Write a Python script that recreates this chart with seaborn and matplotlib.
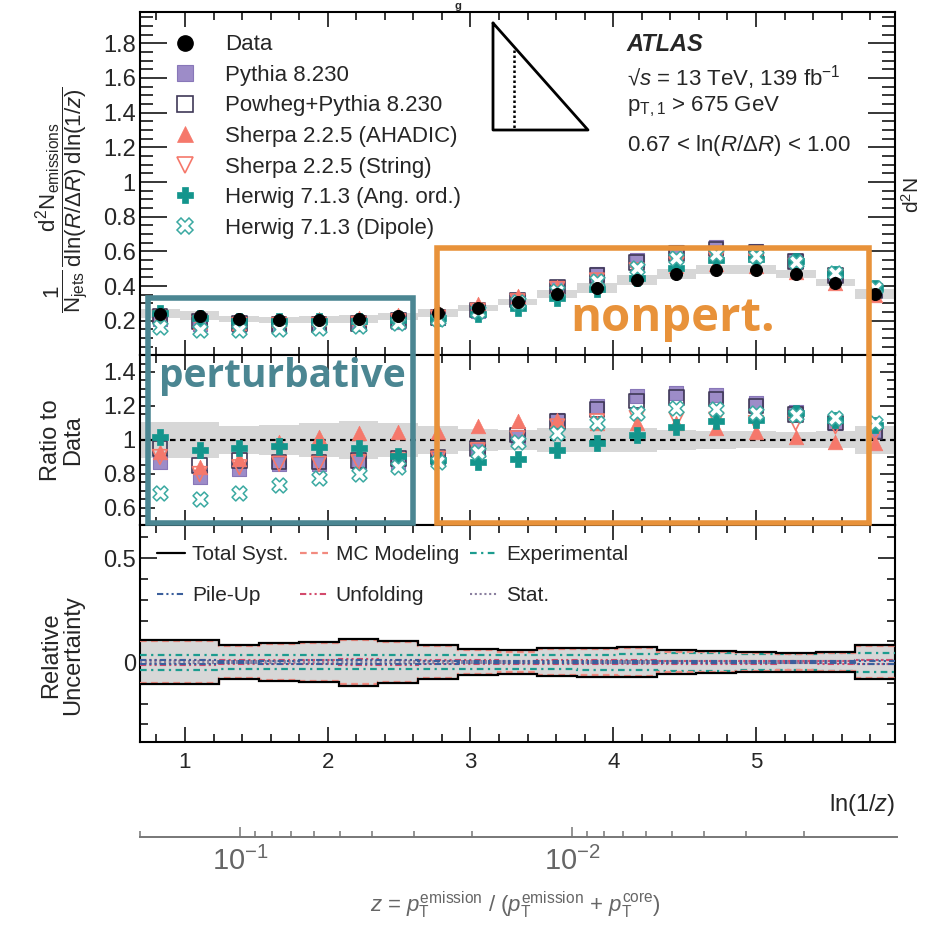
import numpy as np
import pandas as pd
import matplotlib
matplotlib.use('Agg')
import matplotlib.pyplot as plt
import seaborn as sns
from matplotlib.lines import Line2D
from matplotlib.patches import Rectangle
from matplotlib.ticker import MultipleLocator, FuncFormatter, LogLocator, LogFormatterMathtext, NullFormatter

sns.set_theme(style='ticks')
plt.rcParams['font.family'] = ['Liberation Sans', 'DejaVu Sans']
plt.rcParams['mathtext.fontset'] = 'custom'
plt.rcParams['mathtext.rm'] = 'Liberation Sans'
plt.rcParams['mathtext.it'] = 'Liberation Sans:italic'
plt.rcParams['mathtext.bf'] = 'Liberation Sans:bold'

# ---------------- data ----------------
x_lo, x_hi, n_bins = 0.685, 5.974, 19
edges = np.linspace(x_lo, x_hi, n_bins + 1)
centers = 0.5 * (edges[:-1] + edges[1:])

data = [0.24, 0.23, 0.21, 0.205, 0.205, 0.21, 0.225, 0.245, 0.275, 0.31,
        0.355, 0.39, 0.435, 0.47, 0.495, 0.495, 0.47, 0.42, 0.355]

ratio_pythia = [0.87, 0.78, 0.83, 0.86, 0.86, 0.87, 0.87, 0.89, 0.94, 1.02,
                1.12, 1.20, 1.26, 1.275, 1.265, 1.22, 1.165, 1.10, 1.06]
ratio_powheg = [0.95, 0.85, 0.88, 0.87, 0.87, 0.88, 0.89, 0.90, 0.95, 1.03,
                1.11, 1.18, 1.23, 1.25, 1.24, 1.20, 1.15, 1.10, 1.05]
ratio_ahadic = [0.93, 0.84, 0.89, 0.99, 1.02, 1.04, 1.045, 1.045, 1.08, 1.11,
                1.12, 1.10, 1.10, 1.10, 1.07, 1.045, 1.02, 0.99, 0.98]
ratio_string = [0.90, 0.80, 0.84, 0.86, 0.86, 0.87, 0.88, 0.89, 0.94, 1.01,
                1.08, 1.11, 1.13, 1.12, 1.12, 1.10, 1.10, 1.08, 1.04]
ratio_angord = [1.02, 0.94, 0.95, 0.965, 0.96, 0.95, 0.905, 0.88, 0.87, 0.89,
                0.94, 0.98, 1.03, 1.075, 1.11, 1.12, 1.16, 1.12, 1.09]
ratio_dipole = [0.69, 0.65, 0.69, 0.735, 0.775, 0.80, 0.84, 0.87, 0.93, 0.99,
                1.04, 1.10, 1.16, 1.19, 1.18, 1.16, 1.15, 1.13, 1.10]

unc_total = [0.108, 0.108, 0.08, 0.09, 0.098, 0.113, 0.102, 0.083, 0.064, 0.056,
             0.068, 0.07, 0.072, 0.057, 0.055, 0.05, 0.046, 0.05, 0.081]
unc_mc = [0.103, 0.103, 0.075, 0.085, 0.093, 0.108, 0.097, 0.078, 0.058, 0.05,
          0.062, 0.064, 0.066, 0.05, 0.048, 0.043, 0.04, 0.044, 0.077]
unc_exp = [0.036, 0.036, 0.035, 0.035, 0.034, 0.034, 0.034, 0.033, 0.033, 0.033,
           0.034, 0.036, 0.04, 0.042, 0.042, 0.04, 0.04, 0.042, 0.046]
unc_pileup = [0.008, 0.008, 0.006, 0.007, 0.008, 0.01, 0.009, 0.007, 0.006, 0.005,
              0.006, 0.006, 0.006, 0.005, 0.005, 0.005, 0.005, 0.006, 0.007]
unc_unfold = [0.012, 0.012, 0.01, 0.01, 0.011, 0.013, 0.012, 0.01, 0.008, 0.007,
              0.008, 0.01, 0.009, 0.007, 0.007, 0.007, 0.006, 0.007, 0.01]
unc_stat = [0.004, 0.004, 0.004, 0.004, 0.004, 0.005, 0.005, 0.004, 0.004, 0.004,
            0.004, 0.004, 0.004, 0.004, 0.004, 0.005, 0.005, 0.006, 0.008]

labels = ['Data', 'Pythia 8.230', 'Powheg+Pythia 8.230', 'Sherpa 2.2.5 (AHADIC)',
          'Sherpa 2.2.5 (String)', 'Herwig 7.1.3 (Ang. ord.)', 'Herwig 7.1.3 (Dipole)']
unc_labels = ['Total Syst.', 'MC Modeling', 'Experimental', 'Pile-Up', 'Unfolding', 'Stat.']

# ---------------- styles ----------------
C_PY = '#9d8cc8'
C_PW = '#3f3857'
C_SH = '#f5786b'
C_HW = '#13958c'
C_HD = '#3aa9a1'
GREY = '#d7d7d7'

series = [
    ('Pythia 8.230', ratio_pythia, dict(marker='s', s=110, color=C_PY, edgecolor='#8877b8', linewidth=0.8)),
    ('Powheg+Pythia 8.230', ratio_powheg, dict(marker='s', s=110, color=C_PW, facecolor='none', edgecolor=C_PW, linewidth=1.2)),
    ('Sherpa 2.2.5 (AHADIC)', ratio_ahadic, dict(marker='^', s=110, color=C_SH, edgecolor=C_SH, linewidth=0.5)),
    ('Sherpa 2.2.5 (String)', ratio_string, dict(marker='v', s=110, color=C_SH, facecolor='none', edgecolor=C_SH, linewidth=1.2)),
    ('Herwig 7.1.3 (Ang. ord.)', ratio_angord, dict(marker='P', s=130, color=C_HW, edgecolor=C_HW, linewidth=0.5)),
    ('Herwig 7.1.3 (Dipole)', ratio_dipole, dict(marker='X', s=115, color=C_HD, facecolor='white', edgecolor=C_HD, linewidth=1.1)),
]

df = pd.DataFrame({'x': centers, 'data': data})
for name, r, _ in series:
    df[name] = np.array(r) * np.array(data)
    df[name + ' ratio'] = r

fig = plt.figure(figsize=(9.3, 9.26), dpi=100)
def fy(px):
    return 1 - px / 926.0
L, W = 140 / 930, 755 / 930
ax1 = fig.add_axes([L, fy(355), W, 343 / 926])
ax2 = fig.add_axes([L, fy(525), W, 170 / 926])
ax3 = fig.add_axes([L, fy(742), W, 217 / 926])

fmt = FuncFormatter(lambda v, p: f'{v:g}')
def style(ax, ymaj, ymin, ylen, xlen):
    ax.set_xlim(x_lo, x_hi)
    ax.xaxis.set_major_locator(MultipleLocator(1))
    ax.xaxis.set_minor_locator(MultipleLocator(0.2))
    ax.yaxis.set_major_locator(MultipleLocator(ymaj))
    ax.yaxis.set_minor_locator(MultipleLocator(ymin))
    ax.yaxis.set_major_formatter(fmt)
    ax.tick_params(which='both', direction='in', top=True, right=True,
                   width=1.1, color='black', labelsize=17, pad=3)
    ax.tick_params(axis='y', which='major', length=ylen[0])
    ax.tick_params(axis='y', which='minor', length=ylen[1])
    ax.tick_params(axis='x', which='major', length=xlen[0])
    ax.tick_params(axis='x', which='minor', length=xlen[1])
    for s in ax.spines.values():
        s.set_linewidth(1.5)
        s.set_color('black')

# ---------------- top panel ----------------
tot = np.array(unc_total)
dat = np.array(data)
ax1.fill_between(edges, np.append(dat * (1 - tot), dat[-1] * (1 - tot[-1])),
                 np.append(dat * (1 + tot), dat[-1] * (1 + tot[-1])),
                 step='post', color=GREY, lw=0, zorder=1)
for name, r, kw in series:
    sns.scatterplot(data=df, x='x', y=name, ax=ax1, zorder=3, legend=False, **kw)
sns.scatterplot(data=df, x='x', y='data', ax=ax1, marker='o', s=75, color='black',
                edgecolor='black', zorder=5, legend=False)
ax1.set_ylim(0.003, 1.98)
style(ax1, 0.2, 0.05, (19.5, 9.5), (11, 6))
ax1.set_xlabel('')
ax1.set_ylabel('')
ax1.tick_params(axis='x', labelbottom=False)

handles = [Line2D([], [], ls='none', marker='o', ms=11, color='black')]
for name, r, kw in series:
    fc = kw.get('facecolor', kw['color'])
    handles.append(Line2D([], [], ls='none', marker=kw['marker'], ms=np.sqrt(kw['s']) * 1.05,
                          markerfacecolor=fc, markeredgecolor=kw['edgecolor'],
                          markeredgewidth=kw['linewidth']))
ax1.legend(handles, labels, loc='upper left', bbox_to_anchor=(0.045, 0.935),
           frameon=False, fontsize=16, handlelength=1.0, handletextpad=1.3,
           labelspacing=0.43, borderpad=0, borderaxespad=0)

ax1.text(0.645, 0.905, 'ATLAS', transform=ax1.transAxes, fontsize=17,
         fontweight='bold', fontstyle='italic', va='center', ha='left')
ax1.text(0.645, 0.81, '√$s$ = 13 TeV, 139 fb$^{-1}$', transform=ax1.transAxes,
         fontsize=16, va='center', ha='left')
ax1.text(0.645, 0.725, r'p$_{\rm T,1}$ > 675 GeV', transform=ax1.transAxes,
         fontsize=16, va='center', ha='left')
ax1.text(0.645, 0.61, r'0.67 < ln($R$/$\Delta R$) < 1.00', transform=ax1.transAxes,
         fontsize=16, va='center', ha='left')

# ---------------- ratio panel ----------------
ax2.fill_between(edges, np.append(1 - tot, 1 - tot[-1]), np.append(1 + tot, 1 + tot[-1]),
                 step='post', color=GREY, lw=0, zorder=1)
ax2.axhline(1.0, color='black', ls=(0, (2.5, 2)), lw=1.6, zorder=2)
for name, r, kw in series:
    sns.scatterplot(data=df, x='x', y=name + ' ratio', ax=ax2, zorder=3, legend=False, **kw)
ax2.set_ylim(0.5, 1.5)
style(ax2, 0.2, 0.05, (11, 6), (11, 6))
ax2.set_xlabel('')
ax2.set_ylabel('')
ax2.tick_params(axis='x', labelbottom=False)

# ---------------- uncertainty panel ----------------
ax3.fill_between(edges, np.append(-tot, -tot[-1]), np.append(tot, tot[-1]),
                 step='post', color=GREY, lw=0, zorder=1)
unc_styles = [
    (unc_total, dict(color='black', lw=1.6, ls='-')),
    (unc_mc, dict(color='#f28a7f', lw=1.6, ls=(0, (3, 2)))),
    (unc_exp, dict(color='#1c9c8f', lw=1.6, ls=(0, (3, 2, 1, 2)))),
    (unc_pileup, dict(color='#3b5f9c', lw=1.5, ls=(0, (3, 1.5, 1, 1.5, 1, 1.5)))),
    (unc_unfold, dict(color='#d34a6c', lw=1.5, ls=(0, (3, 1.5, 1, 1.5, 1, 1.5)))),
    (unc_stat, dict(color='#8a7f9f', lw=1.5, ls=(0, (1, 1.3)))),
]
for vals, kw in unc_styles[::-1]:
    v = np.array(vals)
    ax3.stairs(v, edges, baseline=None, zorder=3, **kw)
    ax3.stairs(-v, edges, baseline=None, zorder=3, **kw)
ax3.set_ylim(-0.385, 0.66)
style(ax3, 0.5, 0.1, (12, 6), (11, 6))
ax3.tick_params(axis='x', labelsize=16, pad=7)
ax3.xaxis.set_major_formatter(fmt)
ax3.set_xlabel('ln(1/$z$)', fontsize=17, loc='right', labelpad=14)
uh = [Line2D([], [], **kw) for _, kw in unc_styles]
order = [0, 3, 1, 4, 2, 5]
ax3.legend([uh[i] for i in order], [unc_labels[i] for i in order], loc='upper left',
           bbox_to_anchor=(0.0225, 0.907), ncol=3,
           frameon=False, fontsize=15, handlelength=1.35, handletextpad=0.35,
           columnspacing=0.55, labelspacing=1.04, borderpad=0, borderaxespad=0)

# ---------------- y labels ----------------
fig.text(62 / 930, fy(200),
         r'$\dfrac{1}{\mathrm{N_{jets}}}\,\dfrac{\mathrm{d^2N_{emissions}}}{\mathrm{dln}(R/\Delta R)\;\mathrm{dln}(1/z)}$',
         rotation=90, ha='center', va='center', fontsize=16)
fig.text(62 / 930, fy(440), 'Ratio to\nData', rotation=90, ha='center', va='center',
         fontsize=17, linespacing=1.0)
fig.text(62 / 930, fy(655), 'Relative\nUncertainty', rotation=90, ha='center', va='center',
         fontsize=17, linespacing=1.0)

# ---------------- inset triangle icon ----------------
tri = Line2D([493 / 930, 493 / 930, 588 / 930, 493 / 930], [fy(23), fy(130), fy(130), fy(23)],
             transform=fig.transFigure, color='black', lw=2)
fig.add_artist(tri)
fig.add_artist(Line2D([514 / 930, 514 / 930], [fy(50), fy(128)], transform=fig.transFigure,
                      color='black', lw=1.8, ls=(0, (1, 1))))

# ---------------- annotation boxes ----------------
teal = '#4b8692'
orange = '#e8923a'
fig.add_artist(Rectangle((148 / 930, fy(523)), 265 / 930, 225 / 926, transform=fig.transFigure,
                         fill=False, edgecolor=teal, lw=4, zorder=10))
fig.add_artist(Rectangle((437 / 930, fy(523)), 432 / 930, 275 / 926, transform=fig.transFigure,
                         fill=False, edgecolor=orange, lw=4, zorder=10))
fig.text(282 / 930, fy(377), 'perturbative', family='Open Sans', fontweight='bold',
         fontsize=28, color=teal, ha='center', va='center', zorder=11)
fig.text(673 / 930, fy(318), 'nonpert.', family='Open Sans', fontweight='bold',
         fontsize=34, color=orange, ha='center', va='center', zorder=11)

# ---------------- secondary z axis ----------------
ax4 = fig.add_axes([L, fy(837), 757 / 930, 0.0001])
ax4.set_facecolor('none')
ax4.set_xscale('log')
ax4.set_xlim(0.2, 0.00105)
ax4.set_yticks([])
for k in ['left', 'right', 'top']:
    ax4.spines[k].set_visible(False)
ax4.spines['bottom'].set_color('#777777')
ax4.spines['bottom'].set_linewidth(1.4)
ax4.xaxis.set_major_locator(LogLocator(base=10))
ax4.xaxis.set_minor_locator(LogLocator(base=10, subs=np.arange(2, 10)))
ax4.xaxis.set_major_formatter(LogFormatterMathtext())
ax4.xaxis.set_minor_formatter(NullFormatter())
ax4.tick_params(axis='x', which='both', direction='in', color='#777777', width=1.1,
                labelcolor='#666666', labelsize=21, pad=7)
ax4.tick_params(axis='x', which='major', length=7)
ax4.tick_params(axis='x', which='minor', length=4)
fig.text(515 / 930, fy(905),
         r'$z$ = $p_{\rm T}^{\rm emission}$ / ($p_{\rm T}^{\rm emission}$ + $p_{\rm T}^{\rm core}$)',
         ha='center', va='center', fontsize=16, color='#666666')

# ---------------- fragments of neighbouring content ----------------
fig.text(912 / 930, fy(195), r'd$^2$N', rotation=90, ha='center', va='center', fontsize=15)
fig.text(458 / 930, fy(1), 'g', ha='center', va='top', fontsize=8, fontweight='bold')

fig.savefig('out.png', dpi=100)
